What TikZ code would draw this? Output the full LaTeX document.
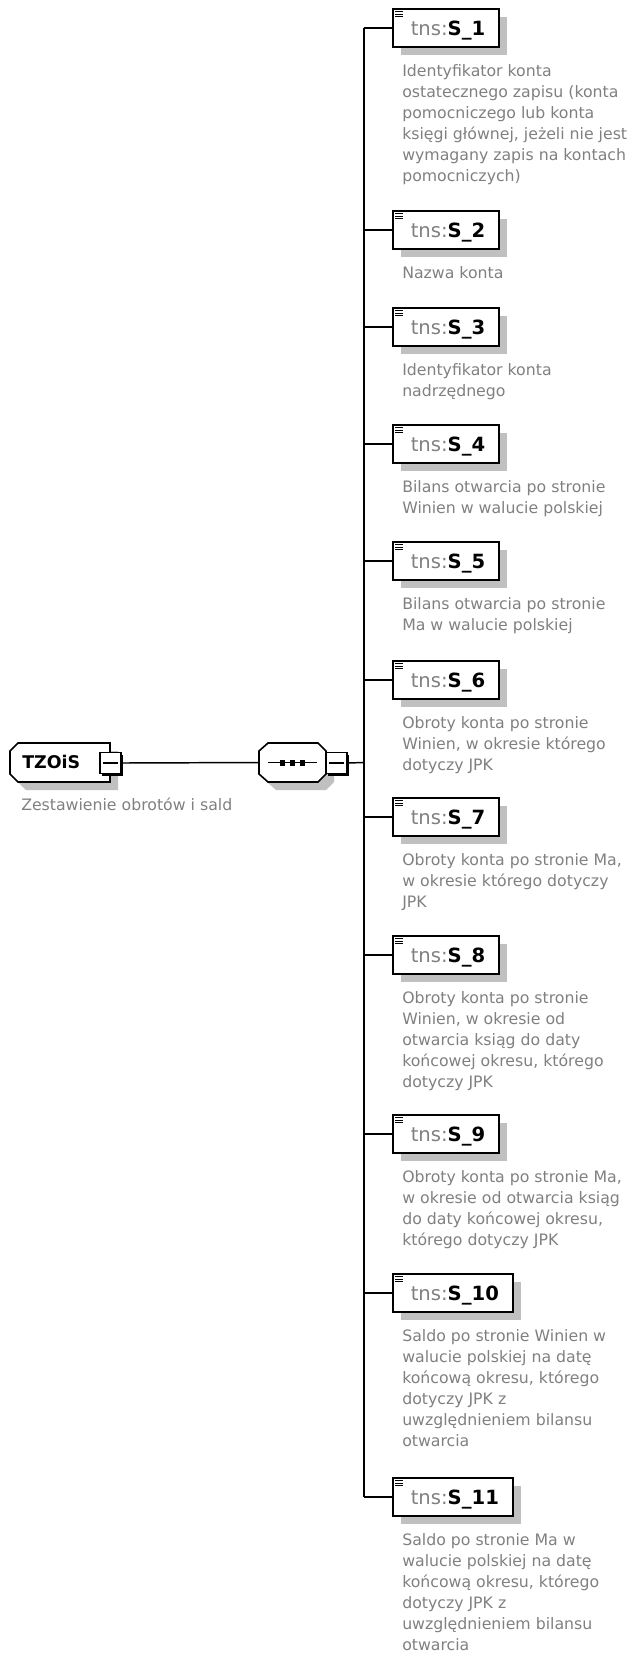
\documentclass[tikz,border=0pt]{standalone}
\usepackage{fontspec}
\setmainfont{DejaVu Sans}
\usetikzlibrary{positioning,shadows}
\definecolor{descgray}{RGB}{128,128,128}
\definecolor{shadegray}{RGB}{192,192,192}
\tikzset{
  shade box/.style={drop shadow={shadow xshift=6pt,shadow yshift=-6pt,fill=shadegray,opacity=1}},
  conn/.style={line width=1.1pt},
  outline/.style={draw,line width=1.2pt,fill=white},
  elem/.style={outline,shade box,anchor=west,minimum height=28.5pt,
    inner xsep=10.5pt,text height=10.7pt,text depth=0pt,font=\fontsize{14.7}{17}\selectfont},
  desc/.style={anchor=north west,align=left,inner sep=0pt,text=descgray,
    font=\fontsize{11.8}{15.75}\selectfont},
  plusminus/.style={draw,line width=1pt,fill=white,minimum size=15.75pt,inner sep=0pt,
    drop shadow={shadow xshift=1.5pt,shadow yshift=-1.5pt,fill=black,opacity=1}},
}
\begin{document}
\begin{tikzpicture}[x=0.75pt,y=-0.75pt]
  \useasboundingbox (0,0) rectangle (634,1654);
  % root element
  \fill[shadegray,shift={(8,8)}] (18,743) -- (110,743) -- (110,782) -- (18,782) -- (10,774) -- (10,751) -- cycle;
  \path[outline] (18,743) -- (110,743) -- (110,782) -- (18,782) -- (10,774) -- (10,751) -- cycle;
  \node[anchor=west,inner sep=0pt,text height=9.6pt,text depth=0pt,
    font=\fontsize{13.1}{15}\selectfont\bfseries] (root) at (22,762.5) {TZOiS};
  \node[plusminus] (rootpm) at (110.5,763) {};
  \draw[line width=0.8pt] ([xshift=3pt]rootpm.west) -- ([xshift=-3pt]rootpm.east);
  \node[desc] (rootdesc) at (21,798) {Zestawienie obrotów i sald};
  % sequence
  \fill[shadegray,shift={(8,8)}] (268,743) -- (318,743) -- (326,751) -- (326,774) -- (318,782)
    -- (268,782) -- (259,774) -- (259,751) -- cycle;
  \path[outline] (268,743) -- (318,743) -- (326,751) -- (326,774) -- (318,782)
    -- (268,782) -- (259,774) -- (259,751) -- cycle;
  \node[minimum width=50.25pt,minimum height=29.25pt,inner sep=0pt] (seq) at (292.5,762.5) {};
  \draw[line width=1pt] ([xshift=7pt]seq.west) -- ([xshift=-7pt]seq.east);
  \foreach \d in {-10,0,10}
    \fill ([xshift=\d*0.75pt]seq.center) +(-2.5,-3) rectangle +(2.5,3);
  \node[plusminus] (seqpm) at (336.5,763) {};
  \draw[line width=0.8pt] ([xshift=3pt]seqpm.west) -- ([xshift=-3pt]seqpm.east);
  \coordinate (trunk) at (364,762.5);
  \draw[conn] (rootpm.east) -- (seq.west);
  \draw[conn] (seqpm.east) -- (trunk);
  % children
  \foreach \y/\txt [count=\i] in {
    28/{Identyfikator konta\\ostatecznego zapisu (konta\\pomocniczego lub konta\\księgi głównej, jeżeli nie jest\\wymagany zapis na kontach\\pomocniczych)},
    230/{Nazwa konta},
    327/{Identyfikator konta\\nadrzędnego},
    444/{Bilans otwarcia po stronie\\Winien w walucie polskiej},
    561/{Bilans otwarcia po stronie\\Ma w walucie polskiej},
    680/{Obroty konta po stronie\\Winien, w okresie którego\\dotyczy JPK},
    817/{Obroty konta po stronie Ma,\\w okresie którego dotyczy\\JPK},
    955/{Obroty konta po stronie\\Winien, w okresie od\\otwarcia ksiąg do daty\\końcowej okresu, którego\\dotyczy JPK},
    1134/{Obroty konta po stronie Ma,\\w okresie od otwarcia ksiąg\\do daty końcowej okresu,\\którego dotyczy JPK},
    1293/{Saldo po stronie Winien w\\walucie polskiej na datę\\końcową okresu, którego\\dotyczy JPK z\\uwzględnieniem bilansu\\otwarcia},
    1497/{Saldo po stronie Ma w\\walucie polskiej na datę\\końcową okresu, którego\\dotyczy JPK z\\uwzględnieniem bilansu\\otwarcia}}
  {
    \coordinate (t\i) at (364,\y);
    \node[elem] (s\i) at (392,\y) {\hspace*{3pt}\textcolor{descgray}{tns:}\textbf{S\_\i}};
    \foreach \k in {0,1,2}
      \draw[line width=0.7pt] ([shift={(3,3.5+2.6*\k)}]s\i.north west) -- +(8,0);
    \node[desc] (d\i) at (402,\y+36) {\txt};
    \draw[conn] (t\i) -- (s\i);
  }
  \draw[conn] (t1) -- (t11);
\end{tikzpicture}
\end{document}
